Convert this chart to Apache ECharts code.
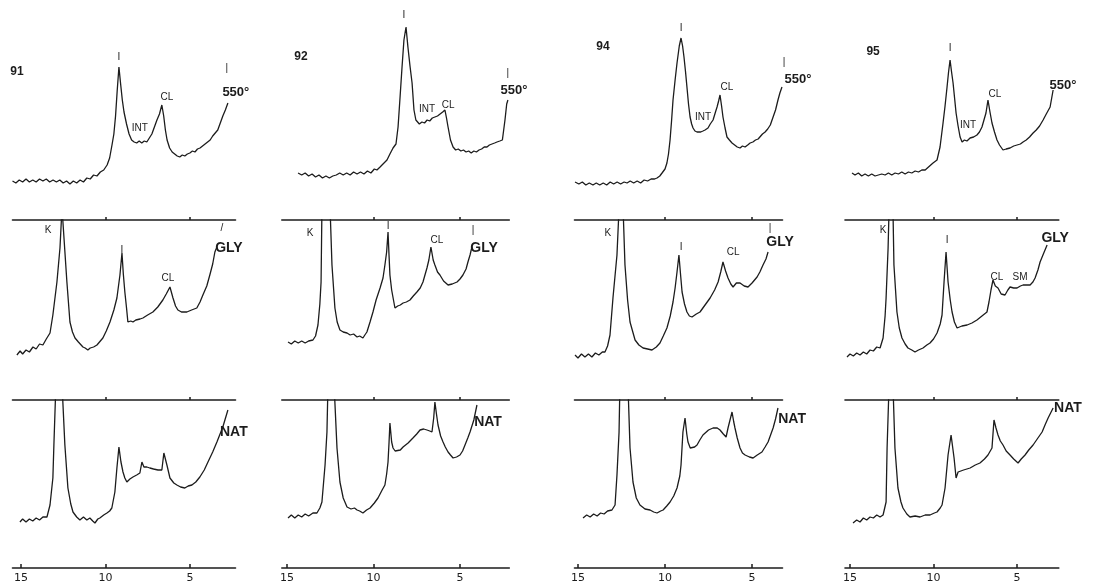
<!DOCTYPE html>
<html>
<head>
<meta charset="utf-8">
<title>XRD patterns 91 - 95</title>
<script src="https://cdn.jsdelivr.net/npm/echarts@6/dist/echarts.min.js"></script>
<style>
  html, body { margin: 0; padding: 0; background: #fff; }
  #chart { width: 1093px; height: 587px; }
</style>
</head>
<body>
<div id="chart"></div>
<script>
// [2theta (deg), relative intensity], 3 treatments per sample
const s91_550 = [[15.5,9.5],[15.3,8.5],[15.1,10],[14.9,9],[14.7,10.5],[14.5,9],[14.3,10],[14.1,9],[13.9,10.5],[13.7,9.5],[13.5,10.5],[13.3,9],[13.1,10],[12.9,9],[12.7,10],[12.5,8.5],[12.3,9.5],[12.1,8],[11.9,9.5],[11.7,8.5],[11.5,10],[11.3,9],[11.1,11],[10.9,10.5],[10.7,12.5],[10.5,12],[10.3,14],[10.1,15],[9.9,17.5],[9.75,21],[9.6,28],[9.5,33],[9.4,42],[9.3,55],[9.2,66.5],[9.1,58],[9.0,50],[8.9,44],[8.75,38],[8.6,33],[8.45,30],[8.3,29],[8.15,28.5],[8.0,29.5],[7.85,28.5],[7.7,29.5],[7.55,29],[7.4,31],[7.25,33],[7.1,36.5],[6.95,40],[6.8,43],[6.66,47.5],[6.55,42],[6.45,35],[6.35,30],[6.2,26],[6.05,24],[5.9,23],[5.75,22],[5.6,21.5],[5.45,22.5],[5.3,22],[5.15,23],[5.0,23.5],[4.85,24.5],[4.7,24],[4.55,25.5],[4.4,26],[4.25,27],[4.1,28],[3.95,29],[3.8,30],[3.65,32],[3.5,33.5],[3.35,35],[3.2,38.5],[3.05,42],[2.9,45],[2.75,48.5]];
const s91_gly = [[15.24,22.5],[15.05,24.5],[14.9,23],[14.7,25],[14.5,24],[14.29,26.5],[14.1,25.5],[13.9,28],[13.7,27.5],[13.5,30.5],[13.28,33.5],[13.11,42.5],[12.87,59],[12.69,76],[12.57,96],[12.46,96],[12.28,59],[12.1,39],[11.95,34],[11.8,31],[11.6,29],[11.33,26.5],[11.2,26],[11.04,25],[10.9,26],[10.7,26.5],[10.5,27.5],[10.3,29.5],[10.15,31],[9.95,34.5],[9.73,39],[9.5,45],[9.32,51],[9.14,62.5],[9.02,73.5],[8.94,63],[8.85,54],[8.75,46],[8.67,39],[8.5,39.5],[8.37,39],[8.2,40],[7.95,40.5],[7.78,41],[7.5,42.5],[7.19,44],[6.9,46.5],[6.6,50],[6.4,53],[6.18,56.5],[6.0,51],[5.85,47],[5.71,45],[5.5,44],[5.18,44],[4.9,45],[4.59,46],[4.4,49],[4.23,52.5],[4.0,57],[3.82,62.5],[3.65,68],[3.52,74],[3.4,76.5]];
const s91_nat = [[15.06,23],[14.9,24.5],[14.7,23],[14.5,24.5],[14.3,23.5],[14.1,25],[13.9,24],[13.7,25.5],[13.46,25.5],[13.28,31.5],[13.11,45],[13.05,61.5],[12.93,92],[12.57,92],[12.4,61.5],[12.22,40],[12.05,32],[11.92,28],[11.7,25.5],[11.51,24],[11.3,25.5],[11.1,24],[10.92,25],[10.75,23.5],[10.62,22.5],[10.45,24.5],[10.33,25],[10.1,26.5],[9.91,27.5],[9.75,28.5],[9.62,30],[9.44,38],[9.32,50],[9.2,60.5],[9.08,53],[8.96,48],[8.85,45],[8.73,43],[8.55,44.5],[8.37,45.5],[8.15,46.5],[7.96,47.5],[7.84,53],[7.72,50.5],[7.55,50.5],[7.37,50],[7.15,49.5],[6.89,49],[6.66,49],[6.54,57.5],[6.36,51.5],[6.18,45],[5.95,42.5],[5.77,41.5],[5.55,40.5],[5.3,40],[5.1,41],[4.88,41.5],[4.65,43],[4.41,45.5],[4.15,49],[3.93,53],[3.65,58],[3.4,63],[3.05,70.5],[2.75,79]];

const s92_550 = [[14.36,13.5],[14.15,12.5],[13.95,13.5],[13.75,12],[13.55,13],[13.35,11.5],[13.15,12.5],[12.95,11],[12.75,12],[12.55,11],[12.35,12],[12.15,12.5],[11.95,13.5],[11.75,12.5],[11.55,13.5],[11.35,12.5],[11.15,14],[10.95,13],[10.75,14],[10.55,13],[10.35,14.5],[10.15,13.5],[9.95,15.5],[9.8,15],[9.62,16.5],[9.45,18],[9.22,20],[9.05,23],[8.87,26],[8.7,28],[8.64,28.5],[8.58,36.5],[8.46,52],[8.35,66.5],[8.24,80],[8.12,86.5],[8.01,76.5],[7.89,67],[7.77,58.5],[7.66,45],[7.55,40],[7.49,39],[7.35,38],[7.2,39],[7.05,38.5],[6.9,40],[6.75,39.5],[6.6,41],[6.45,41.5],[6.3,42],[6.15,43],[6.0,44],[5.87,45],[5.78,41],[5.69,36.5],[5.55,30],[5.4,26.5],[5.25,25],[5.1,25.5],[4.95,24.5],[4.8,25],[4.65,24],[4.5,24.5],[4.35,23.5],[4.2,24.5],[4.05,24],[3.9,25],[3.75,25.5],[3.6,26.5],[3.44,26.5],[3.3,27.5],[3.15,28],[3.0,28.5],[2.86,29],[2.7,29.5],[2.55,30],[2.5,31],[2.4,40],[2.3,48],[2.23,50]];
const s92_gly = [[14.94,29],[14.75,28],[14.55,29.5],[14.35,28.5],[14.15,29.5],[13.95,28.5],[13.75,29.5],[13.5,30],[13.35,32],[13.21,37.5],[13.1,48],[13.03,59],[12.98,96],[12.51,96],[12.4,67.5],[12.23,46],[12.1,39],[11.94,35],[11.75,34],[11.53,33.5],[11.35,32.5],[11.15,33],[10.95,31.5],[10.8,32],[10.61,31],[10.5,32.5],[10.38,34],[10.2,39],[10.03,44],[9.85,50],[9.62,56],[9.45,61],[9.34,67.5],[9.24,74],[9.16,84],[9.1,72],[9.05,62.5],[8.95,55],[8.76,46],[8.6,47],[8.45,47.5],[8.29,48.5],[8.1,49],[7.89,50],[7.7,52],[7.49,54],[7.3,56],[7.14,59],[6.91,66],[6.8,70],[6.68,76.5],[6.55,70],[6.45,67.5],[6.3,64],[6.16,62.5],[5.95,59.5],[5.69,57.5],[5.45,58],[5.17,59],[5.0,60.5],[4.83,62.5],[4.65,65.5],[4.54,69],[4.42,72.5],[4.31,76.5]];
const s92_nat = [[14.94,25],[14.75,26.5],[14.55,25],[14.35,26.5],[14.15,25.5],[13.95,27],[13.75,26],[13.5,27.5],[13.27,27.5],[13.1,30],[12.98,33],[12.8,51.5],[12.69,68],[12.63,92],[12.28,92],[12.11,60],[11.94,43],[11.75,35],[11.53,30.5],[11.3,29.5],[11.1,30],[10.95,29],[10.8,28.5],[10.61,27.5],[10.4,29],[10.2,30],[9.95,32.5],[9.74,35],[9.5,39],[9.34,41.5],[9.24,47],[9.16,53],[9.1,63],[9.05,72.5],[8.95,63],[8.87,60],[8.75,58.5],[8.64,57.5],[8.45,59],[8.29,60.5],[8.0,62.5],[7.72,65],[7.5,67],[7.31,69],[7.1,69.5],[6.91,69],[6.75,68.5],[6.62,68],[6.52,75],[6.45,83],[6.36,77],[6.27,71.5],[6.12,66],[5.98,63],[5.85,60.5],[5.69,58],[5.55,56.5],[5.4,55],[5.2,55.5],[5.0,56.5],[4.85,58.5],[4.71,61.5],[4.55,65],[4.42,68],[4.2,74],[4.02,81.5]];

const s94_550 = [[15.17,9],[14.95,8],[14.75,9],[14.55,7.5],[14.35,8.5],[14.14,7.5],[13.95,8.5],[13.75,7.5],[13.55,8.5],[13.35,7.5],[13.15,9],[12.95,8],[12.75,9],[12.55,8],[12.35,9],[12.18,8.5],[12.0,9.5],[11.8,8.5],[11.6,9.5],[11.4,8.5],[11.2,10],[11.0,9.5],[10.8,10.5],[10.6,10.5],[10.46,11],[10.3,12],[10.17,13.5],[10.0,15.5],[9.89,18.5],[9.8,23],[9.71,30],[9.62,40],[9.54,50],[9.42,60],[9.31,68.5],[9.18,77],[9.08,81],[8.99,77],[8.91,71.5],[8.82,64],[8.74,56.5],[8.65,48],[8.56,41.5],[8.47,38],[8.39,36],[8.28,34.5],[8.16,34],[8.05,35],[7.95,34],[7.82,34.5],[7.7,35],[7.6,36],[7.53,36],[7.4,38],[7.24,40],[7.1,44],[7.01,46.5],[6.92,49.5],[6.84,52.5],[6.75,47],[6.67,41.5],[6.55,36],[6.44,31.5],[6.3,30],[6.15,28.5],[6.0,27.5],[5.85,26.5],[5.69,26],[5.55,27],[5.4,26.5],[5.25,27.5],[5.11,28.5],[4.95,29],[4.8,30],[4.65,30.5],[4.54,31.5],[4.4,33],[4.25,34],[4.1,35.5],[3.95,37.5],[3.79,41.5],[3.65,45],[3.51,50],[3.4,53.5],[3.28,56.5]];
const s94_gly = [[15.17,22.5],[15.0,21],[14.8,23],[14.6,21.5],[14.4,23],[14.2,21.5],[14.0,23.5],[13.8,22.5],[13.6,24],[13.45,24],[13.3,27],[13.16,32.5],[12.99,51],[12.76,72.5],[12.64,96],[12.41,96],[12.3,67.5],[12.15,50],[12.01,39],[11.85,34],[11.72,30],[11.5,27.5],[11.26,26],[11.0,25.5],[10.75,25],[10.5,26.5],[10.29,28.5],[10.1,32],[9.89,36],[9.7,42],[9.54,49],[9.42,56],[9.31,64],[9.2,72.5],[9.1,62],[9.02,54],[8.88,48],[8.74,44],[8.6,42],[8.45,41.5],[8.2,43],[7.99,44],[7.7,47.5],[7.41,51],[7.15,55],[6.95,59],[6.8,64],[6.67,69],[6.52,64.5],[6.38,61],[6.22,58],[6.09,56.5],[5.9,58.5],[5.69,58.5],[5.45,57],[5.23,56.5],[5.0,58.5],[4.71,61.5],[4.55,64],[4.37,67.5],[4.2,70.5],[4.08,74]];
const s94_nat = [[14.71,25],[14.5,26.5],[14.3,25.5],[14.1,27],[13.9,26],[13.7,27.5],[13.5,27],[13.3,28.5],[13.05,29],[12.87,31.5],[12.76,46.5],[12.64,68],[12.59,92],[12.13,92],[12.01,60],[11.84,43],[11.65,35],[11.44,31.5],[11.15,29.5],[10.86,29],[10.65,28],[10.46,27.5],[10.25,28.5],[10.11,29],[9.9,31],[9.71,33],[9.5,36],[9.31,40],[9.15,46],[9.08,51.5],[8.97,68],[8.85,75],[8.75,67],[8.68,63],[8.55,60],[8.45,59],[8.3,60.5],[8.16,61.5],[8.0,64],[7.82,66.5],[7.5,69],[7.24,70],[7.0,70],[6.84,69],[6.65,67],[6.49,65.5],[6.38,70],[6.15,78],[6.05,73],[5.98,70],[5.85,65],[5.69,60],[5.55,57.5],[5.4,56.5],[5.15,55.5],[4.94,55],[4.7,56.5],[4.43,58],[4.25,60.5],[4.08,63],[3.79,70],[3.65,74.5],[3.51,80]];

const s95_550 = [[14.88,13.5],[14.7,12.5],[14.5,13.5],[14.3,12],[14.1,13],[13.9,12],[13.7,13],[13.5,12],[13.3,12.5],[13.1,13],[12.9,12.5],[12.7,13.5],[12.5,12.5],[12.3,13.5],[12.1,13],[11.9,14],[11.7,13],[11.5,14],[11.3,13.5],[11.1,14.5],[10.9,14],[10.7,15],[10.5,15],[10.3,16.5],[10.03,18.5],[9.79,20],[9.61,26.5],[9.43,38.5],[9.31,47],[9.19,56.5],[9.1,64],[9.01,70],[8.92,64],[8.83,58.5],[8.74,51],[8.65,43.5],[8.53,37],[8.41,31.5],[8.29,29],[8.15,30],[8.0,29.5],[7.81,31],[7.6,31.5],[7.4,32.5],[7.25,34],[7.1,36.5],[6.98,40],[6.86,43.5],[6.74,50],[6.62,44],[6.5,38.5],[6.35,34],[6.2,30],[6.05,27.5],[5.84,25],[5.65,25.5],[5.42,26],[5.2,27],[5.0,27.5],[4.8,28],[4.64,29],[4.45,30],[4.25,31.5],[4.04,33.5],[3.85,35],[3.65,37],[3.44,40],[3.25,43],[3.02,46.5],[2.84,55]];
const s95_gly = [[15.18,21.5],[15.0,23],[14.8,22],[14.6,23.5],[14.4,22.5],[14.2,24],[14.0,23],[13.8,25],[13.6,24.5],[13.4,26.5],[13.2,26],[13.02,31],[12.9,42],[12.84,51],[12.72,76],[12.66,96],[12.43,96],[12.37,67.5],[12.19,44],[12.05,36],[11.89,31],[11.7,28],[11.53,26],[11.3,25],[11.11,24],[10.9,25],[10.63,26],[10.4,27.5],[10.21,28.5],[10.0,30.5],[9.79,33.5],[9.6,38],[9.49,42.5],[9.37,59],[9.25,74],[9.13,59],[9.0,50],[8.89,44],[8.75,39],[8.59,36],[8.3,37],[7.99,37.5],[7.7,38.5],[7.4,40],[7.1,42],[6.8,44],[6.68,49],[6.56,55],[6.44,60],[6.3,57],[6.14,56],[5.95,53],[5.72,52.5],[5.55,55],[5.42,56.5],[5.2,56],[5.0,56],[4.8,57],[4.64,57.5],[4.4,57.5],[4.22,57.5],[4.05,59],[3.92,61],[3.75,65],[3.62,69],[3.4,73.5],[3.2,77.5]];
const s95_nat = [[14.82,22.5],[14.6,24],[14.4,23],[14.2,25],[14.0,24],[13.8,25.5],[13.6,25],[13.4,26.5],[13.2,25.5],[13.02,26.5],[12.84,33],[12.78,60],[12.66,92],[12.43,92],[12.31,60],[12.13,40],[11.95,33],[11.83,30],[11.6,27],[11.41,25.5],[11.1,26],[10.81,25.5],[10.5,26.5],[10.21,26.5],[9.95,27.5],[9.79,28],[9.6,30],[9.49,31.5],[9.31,40],[9.13,56.5],[8.95,66.5],[8.77,55],[8.65,45],[8.53,48],[8.2,49],[7.81,50],[7.5,51.5],[7.22,52.5],[6.95,54.5],[6.74,56.5],[6.5,60],[6.38,74],[6.26,70],[6.14,66.5],[6.0,63.5],[5.84,61.5],[5.65,58.5],[5.42,56.5],[5.2,54.5],[4.94,52.5],[4.75,54.5],[4.52,56.5],[4.3,59],[4.04,61.5],[3.75,65],[3.5,68],[3.3,72],[3.14,75],[2.84,80]];

// tick labels of the 2theta axis
const tickLabels = [15, 10, 5];

// annotations: [row, text, 2theta, intensity, size] (size 0 = small peak label)
const notes91 = [[0,'91',15.24,64,12],[0,'I',9.2,71.5],[0,'INT',7.96,36],[0,'CL',6.36,51.5],[0,'|',2.81,66],[0,'550°',2.28,54,13],
  [1,'K',13.4,85],[1,'I',9.02,75],[1,'CL',6.3,61],[1,'/',3.11,86],[1,'GLY',2.69,76,14],[2,'NAT',2.4,68,14]];
const notes92 = [[0,'92',14.19,71.5,12],[0,'I',8.24,92.5],[0,'INT',6.91,45.5],[0,'CL',5.69,47.5],[0,'|',2.23,63.5],[0,'550°',1.88,55,13],
  [1,'K',13.67,83.5],[1,'I',9.16,87],[1,'CL',6.33,80],[1,'|',4.25,85],[1,'GLY',3.61,76,14],[2,'NAT',3.38,73,14]];
const notes94 = [[0,'94',13.56,76.5,12],[0,'I',9.08,86],[0,'INT',7.82,41.5],[0,'CL',6.44,56.5],[0,'|',3.16,69],[0,'550°',2.36,60.5,13],
  [1,'K',13.28,83.5],[1,'I',9.08,76.5],[1,'CL',6.09,74],[1,'|',3.97,86],[1,'GLY',3.39,79,14],[2,'NAT',2.7,74.5,14]];
const notes95 = [[0,'95',13.62,74,12],[0,'I',9.01,76],[0,'INT',7.93,37.5],[0,'CL',6.32,53],[0,'550°',2.25,57.5,13],
  [1,'K',13.02,85],[1,'I',9.19,80],[1,'CL',6.2,61.5],[1,'SM',4.82,61.5],[1,'GLY',2.72,81,14],[2,'NAT',1.95,80,14]];

// layout
const columns = [
  { left: 12.5, width: 223, min: 2.3, max: 15.5, traces: [s91_550, s91_gly, s91_nat], notes: notes91 },
  { left: 281.8, width: 227.5, min: 2.15, max: 15.3, traces: [s92_550, s92_gly, s92_nat], notes: notes92 },
  { left: 574.5, width: 208, min: 3.25, max: 15.2, traces: [s94_550, s94_gly, s94_nat], notes: notes94 },
  { left: 845, width: 213.8, min: 2.5, max: 15.3, traces: [s95_550, s95_gly, s95_nat], notes: notes95 }
];
const rows = [
  { top: 0, height: 200, ymax: 100 },
  { top: 220, height: 180, ymax: 90 },
  { top: 400, height: 168, ymax: 84 }
];

const ink = '#1c1c1c';
const axisLine = { show: true, onZero: false, lineStyle: { color: ink, width: 1.6 } };

const chart = echarts.init(document.getElementById('chart'));
const grid = [], xAxis = [], yAxis = [], series = [];

columns.forEach(col => {
  rows.forEach((row, r) => {
    const gi = grid.length;
    grid.push({ left: col.left, width: col.width, top: row.top, height: row.height });
    yAxis.push({ gridIndex: gi, type: 'value', min: 0, max: row.ymax, show: false });
    const base = { gridIndex: gi, type: 'value', inverse: true, min: col.min, max: col.max, splitLine: { show: false } };
    let xi = xAxis.length;
    if (r === 0) {
      xAxis.push(Object.assign({}, base, { show: false }));
    } else {
      xAxis.push(Object.assign({}, base, {
        position: 'top',
        axisLine: axisLine,
        axisTick: { show: true, customValues: [10, 5], length: 3, lineStyle: { color: ink, width: 1.5 } },
        axisLabel: { show: false }
      }));
      if (r === 2) {
        xi = xAxis.length;
        xAxis.push(Object.assign({}, base, {
          position: 'bottom',
          axisLine: axisLine,
          axisTick: { show: true, inside: true, customValues: tickLabels, length: 4, lineStyle: { color: ink, width: 1.5 } },
          axisLabel: { show: true, customValues: tickLabels, color: ink, fontSize: 11, margin: 5, fontFamily: 'DejaVu Sans' }
        }));
      }
    }
    series.push({
      type: 'line',
      xAxisIndex: xi,
      yAxisIndex: gi,
      data: col.traces[r],
      symbol: 'none',
      clip: true,
      animation: false,
      lineStyle: { color: ink, width: 1.3 }
    });
  });
});

chart.setOption({ backgroundColor: '#fff', animation: false, grid, xAxis, yAxis, series });

// place the peak / treatment labels through the series' own scales
const graphic = [];
columns.forEach((col, c) => {
  col.notes.forEach(([r, text, x, v, size]) => {
    const p = chart.convertToPixel({ seriesIndex: c * 3 + r }, [x, v]);
    graphic.push({
      type: 'text',
      x: p[0],
      y: p[1],
      silent: true,
      style: {
        text: text,
        fill: ink,
        font: size ? 'bold ' + size + 'px "Liberation Sans"' : '10px "Liberation Sans"',
        align: 'center',
        verticalAlign: 'middle'
      }
    });
  });
});
chart.setOption({ graphic });
</script>
</body>
</html>
